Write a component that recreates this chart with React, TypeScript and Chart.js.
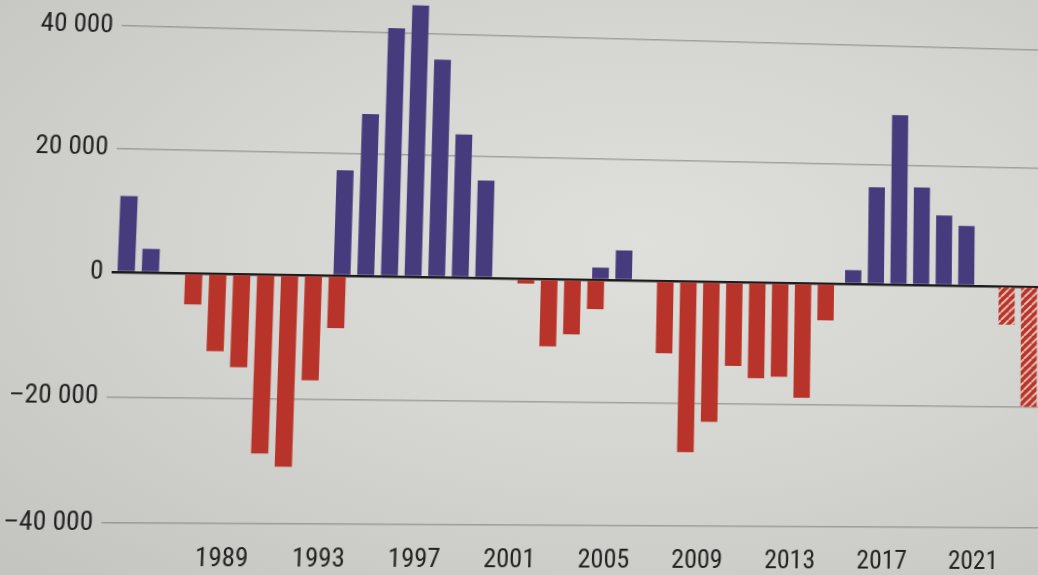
import React, { useEffect, useRef } from "react";
import { Chart, registerables } from "chart.js";

Chart.register(...registerables);

// Years on the category axis
const years = [
  "1984", "1985", "1986", "1987", "1988", "1989", "1990", "1991", "1992", "1993",
  "1994", "1995", "1996", "1997", "1998", "1999", "2000", "2001", "2002", "2003",
  "2004", "2005", "2006", "2007", "2008", "2009", "2010", "2011", "2012", "2013",
  "2014", "2015", "2016", "2017", "2018", "2019", "2020", "2021", "2022", "2023",
];

// Negative balance (red bars)
const negativeValues = [
  null, null, null, -5000, -12500, -15000, -28800, -30900, -17000, -8500,
  null, null, null, null, null, null, null, -800, -11000, -9000,
  -4800, null, null, -11900, -28000, -23000, -13800, -15800, -15500, -18900,
  -6100, null, null, null, null, null, null, null, -6400, -20000,
];

// Positive balance (blue bars)
const positiveValues = [
  12300, 3800, null, null, null, null, null, null, null, 17200,
  26500, 40800, 44700, 35800, 23500, 16000, null, null, null, null,
  2000, 4900, null, null, null, null, null, null, null, null,
  null, 2300, 16200, 28400, 16300, 11700, 10000, null, null, null,
];

// Preliminary years drawn with hatching
const hatchedYears = ["2022", "2023"];

// Years that carry a tick label
const labeledYears = ["1989", "1993", "1997", "2001", "2005", "2009", "2013", "2017", "2021"];

// Value axis
const yTicks = [-40000, -20000, 0, 20000, 40000];
const yMin = -40000;
const yMax = 48000;

const BLUE = "#463b7c";
const RED = "#b8342a";
const TEXT = "#222222";
const FONT = "Roboto, 'DejaVu Sans Condensed', sans-serif";

const CANVAS_W = 1043;
const CANVAS_H = 609;

function makeHatch(base: string, stripe: string): CanvasPattern | string {
  const c = document.createElement("canvas");
  c.width = 8;
  c.height = 8;
  const g = c.getContext("2d");
  if (!g) return base;
  g.fillStyle = base;
  g.fillRect(0, 0, 8, 8);
  g.strokeStyle = stripe;
  g.lineWidth = 2;
  g.beginPath();
  for (let k = -8; k <= 16; k += 8) {
    g.moveTo(k, 8);
    g.lineTo(k + 8, 0);
  }
  g.stroke();
  return g.createPattern(c, "repeat") || base;
}

function formatThousands(v: number): string {
  const abs = Math.abs(v);
  const s =
    abs >= 1000
      ? `${Math.floor(abs / 1000)}\u00a0${String(abs % 1000).padStart(3, "0")}`
      : String(abs);
  return v < 0 ? `\u2013${s}` : s;
}

// Drop the automatic label padding so the plot area sits exactly where the layout puts it
function clearScalePadding(scale: any) {
  scale.paddingTop = 0;
  scale.paddingBottom = 0;
  scale.paddingLeft = 0;
  scale.paddingRight = 0;
}

export default function App() {
  const canvasRef = useRef<HTMLCanvasElement | null>(null);

  useEffect(() => {
    const canvas = canvasRef.current;
    if (!canvas) return;
    const hatch = makeHatch(RED, "rgba(232, 196, 186, 0.95)");

    const barCategory = 0.387;
    const barWidth = 3.7;

    const chart = new Chart(canvas, {
      type: "bar",
      data: {
        labels: years,
        datasets: [
          {
            label: "negative",
            data: negativeValues,
            backgroundColor: (ctx: any) =>
              hatchedYears.includes(years[ctx.dataIndex]) ? hatch : RED,
            borderWidth: 0,
            categoryPercentage: barCategory,
            barPercentage: barWidth,
          },
          {
            label: "positive",
            data: positiveValues,
            backgroundColor: BLUE,
            borderWidth: 0,
            categoryPercentage: barCategory,
            barPercentage: barWidth,
          },
        ],
      },
      options: {
        animation: false,
        responsive: false,
        maintainAspectRatio: false,
        layout: { padding: { top: 10.2, right: 0, bottom: 0, left: 0 } },
        plugins: {
          legend: { display: false },
          tooltip: { enabled: false },
          title: { display: false },
        },
        scales: {
          x: {
            type: "category",
            grid: { display: false, drawTicks: false },
            border: { display: false },
            ticks: {
              autoSkip: false,
              maxRotation: 0,
              minRotation: 0,
              padding: 20,
              labelOffset: -12,
              color: TEXT,
              font: { family: FONT, weight: "condensed", size: 26 },
              callback: (_v: any, index: number) =>
                labeledYears.includes(years[index]) ? years[index] : "",
            },
            afterFit: (scale: any) => {
              scale.height = 51;
              clearScalePadding(scale);
            },
          },
          y: {
            min: yMin,
            max: yMax,
            border: { display: false },
            grid: {
              drawTicks: false,
              color: (ctx: any) =>
                ctx.tick && ctx.tick.value === 0 ? "#1b1b1b" : "rgba(115, 115, 115, 0.55)",
              lineWidth: (ctx: any) => (ctx.tick && ctx.tick.value === 0 ? 2.6 : 1.4),
            },
            afterBuildTicks: (scale: any) => {
              scale.ticks = yTicks.map((value) => ({ value }));
            },
            ticks: {
              padding: 8,
              color: TEXT,
              font: { family: FONT, weight: "condensed", size: 26 },
              callback: (v: any) => formatThousands(Number(v)),
            },
            afterFit: (scale: any) => {
              scale.width = 112;
              clearScalePadding(scale);
            },
          },
        },
      },
    } as any);

    return () => {
      chart.destroy();
    };
  }, []);

  return (
    <div
      style={{
        position: "fixed",
        left: 0,
        top: 0,
        width: "100vw",
        height: "100vh",
        overflow: "hidden",
        background:
          "radial-gradient(ellipse at 62% 42%, #dfdfdb 0%, #d5d5d1 45%, #c3c3bf 100%)",
      }}
    >
      <div
        style={{
          position: "absolute",
          left: 0,
          top: 0,
          width: CANVAS_W,
          height: 580,
          transformOrigin: "0 0",
          transform:
            "matrix3d(1.040135, 0.028768, 0, 0.0000442057, -0.044399, 0.982173, 0, -0.0000383016, 0, 0, 1, 0, 6.91045, -6.85074, 0, 1)",
        }}
      >
        <canvas
          ref={canvasRef}
          width={CANVAS_W}
          height={CANVAS_H}
          style={{ position: "absolute", left: 0, top: -30, width: CANVAS_W, height: CANVAS_H }}
        />
      </div>
    </div>
  );
}
